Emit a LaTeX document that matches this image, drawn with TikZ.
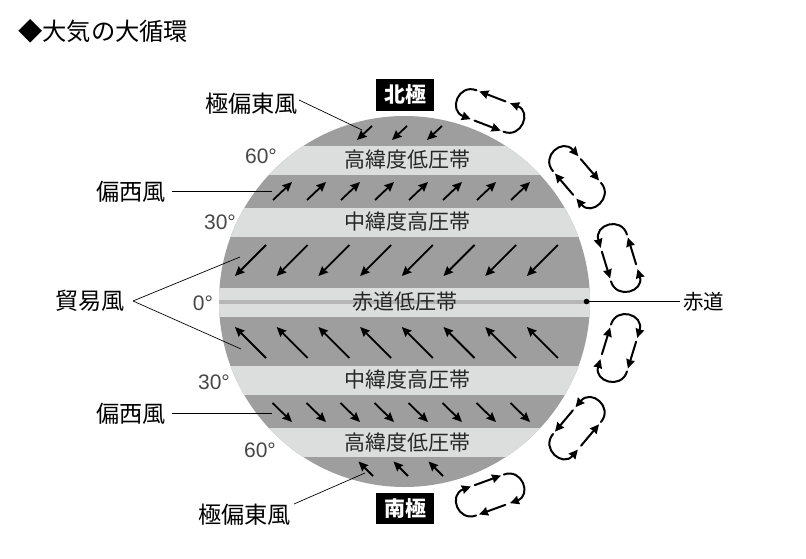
\documentclass[tikz,border=0pt]{standalone}
\usepackage{fontspec}
\setmainfont{Noto Sans CJK JP}
\newfontfamily\latinf{Liberation Sans}
\usetikzlibrary{arrows.meta}
\definecolor{banddark}{HTML}{9D9E9D}
\definecolor{bandlight}{HTML}{DCDEDD}
\definecolor{bandstrip}{HTML}{B5B6B5}
\tikzset{
  windarrow/.style={line width=1.8pt,-{Stealth[length=9.5pt,width=8.5pt,inset=1pt]}},
  cellarrow/.style={line width=2pt,line cap=round,-{Stealth[length=9pt,width=8.5pt,inset=0.5pt]}},
  leader/.style={line width=0.7pt,black},
  labeltext/.style={font=\fontsize{23.2}{25}\selectfont,inner sep=0pt,text=black},
  bandtext/.style={font=\fontsize{21}{23}\selectfont,inner sep=0pt,text=black!85},
  degtext/.style={font=\latinf\fontsize{21}{23}\selectfont,inner sep=0pt,text=black!72},
  polebox/.style={fill=black,text=white,font=\bfseries\fontsize{21}{23}\selectfont,minimum width=58pt,minimum height=31.5pt,inner sep=0pt},
}
\newcommand{\flowcell}[4]{%
  \begin{scope}[shift={(#1,#2)},rotate=-#3,yscale=#4]
    \draw[cellarrow] (-11,14.5) -- (17,14.5);
    \draw[cellarrow] (20,14.5) .. controls (39.5,14.5) and (39.5,-14.5) .. (16,-14.5);
    \draw[cellarrow] (11,-14.5) -- (-17,-14.5);
    \draw[cellarrow] (-20,-14.5) .. controls (-39.5,-14.5) and (-39.5,14.5) .. (-15,14.5);
  \end{scope}}
\begin{document}
\begin{tikzpicture}[x=1pt,y=-1pt]
\useasboundingbox (0,0) rectangle (806,559);
\begin{scope}
  \clip (404.5,301.5) circle[radius=185.5pt];
  \fill[banddark] (200,100) rectangle (610,500);
  \fill[bandlight] (200,146) rectangle (610,175);
  \fill[bandlight] (200,208) rectangle (610,237);
  \fill[bandlight] (200,288) rectangle (610,317);
  \fill[bandstrip] (200,300) rectangle (610,304);
  \fill[bandlight] (200,366) rectangle (610,395);
  \fill[bandlight] (200,428) rectangle (610,457);
\end{scope}
% winds
\foreach \i in {0,1,2} {
  \draw[windarrow] ({372+35*\i},126) -- ({357+35*\i},140);
  \draw[windarrow] ({373+35*\i},476) -- ({358.5+35*\i},461.5);
}
\foreach \i in {0,...,7} {
  \draw[windarrow] ({273+34*\i},200) -- ({292+34*\i},182);
  \draw[windarrow] ({272.5+34*\i},403) -- ({292+34*\i},422);
  \draw[windarrow] ({266+41.7*\i},245) -- ({235+41.7*\i},276);
  \draw[windarrow] ({266+41.7*\i},358) -- ({235+41.7*\i},327);
}
% title
\node[anchor=west,inner sep=0pt,font=\fontsize{24.3}{26}\selectfont] (title) at (18,31) {◆大気の大循環};
% poles
\node[polebox] (north) at (405,95) {北極};
\node[polebox] (south) at (405,508.5) {南極};
% band labels
\node[bandtext] (b1) at (407.5,160) {高緯度低圧帯};
\node[bandtext] (b2) at (407.5,222) {中緯度高圧帯};
\node[bandtext] (b3) at (405,302) {赤道低圧帯};
\node[bandtext] (b4) at (407.5,380) {中緯度高圧帯};
\node[bandtext] (b5) at (407.5,443) {高緯度低圧帯};
% degrees
\node[degtext] (d1) at (261,156) {60°};
\node[degtext] (d2) at (220,222) {30°};
\node[degtext] (d3) at (203,303) {0°};
\node[degtext] (d4) at (214,382) {30°};
\node[degtext] (d5) at (260,450) {60°};
% labels
\node[labeltext,anchor=east] (polarN) at (298,104) {極偏東風};
\node[labeltext,anchor=east] (westN) at (166,192) {偏西風};
\node[labeltext,anchor=east] (trade) at (125,301) {貿易風};
\node[labeltext,anchor=east] (westS) at (166,414) {偏西風};
\node[labeltext,anchor=east] (polarS) at (291,515) {極偏東風};
\node[font=\fontsize{20.5}{22}\selectfont,inner sep=0pt,anchor=west] (eq) at (683,302) {赤道};
% leaders
\coordinate (lpn) at (362,130);
\coordinate (lwn) at (272,191.5);
\coordinate (lwn0) at (172,191.5);
\coordinate (ltn) at (240,257);
\coordinate (lts) at (241,349);
\coordinate (ltr) at (133,301);
\coordinate (lws) at (272,413);
\coordinate (lws0) at (172,413);
\coordinate (lps) at (365,473);
\coordinate (lps0) at (294,504);
\coordinate (lpn0) at (299,100);
\coordinate (leq) at (586.5,301.5);
\coordinate (leqend) at (680,301.5);
\draw[leader] (lpn0) -- (lpn);
\draw[leader] (lwn0) -- (lwn);
\draw[leader] (ltr) -- (ltn);
\draw[leader] (ltr) -- (lts);
\draw[leader] (lws0) -- (lws);
\draw[leader] (lps0) -- (lps);
\fill[black] (leq) circle[radius=2.8pt];
\draw[leader] (leq) -- (leqend);
% circulation cells
\flowcell{490}{111}{21}{1}
\flowcell{577}{177}{49.5}{-1}
\flowcell{619}{258}{73}{1}
\flowcell{619}{348}{107}{-1}
\flowcell{577}{428}{130}{1}
\flowcell{490}{495}{-20}{-1}
\end{tikzpicture}
\end{document}
